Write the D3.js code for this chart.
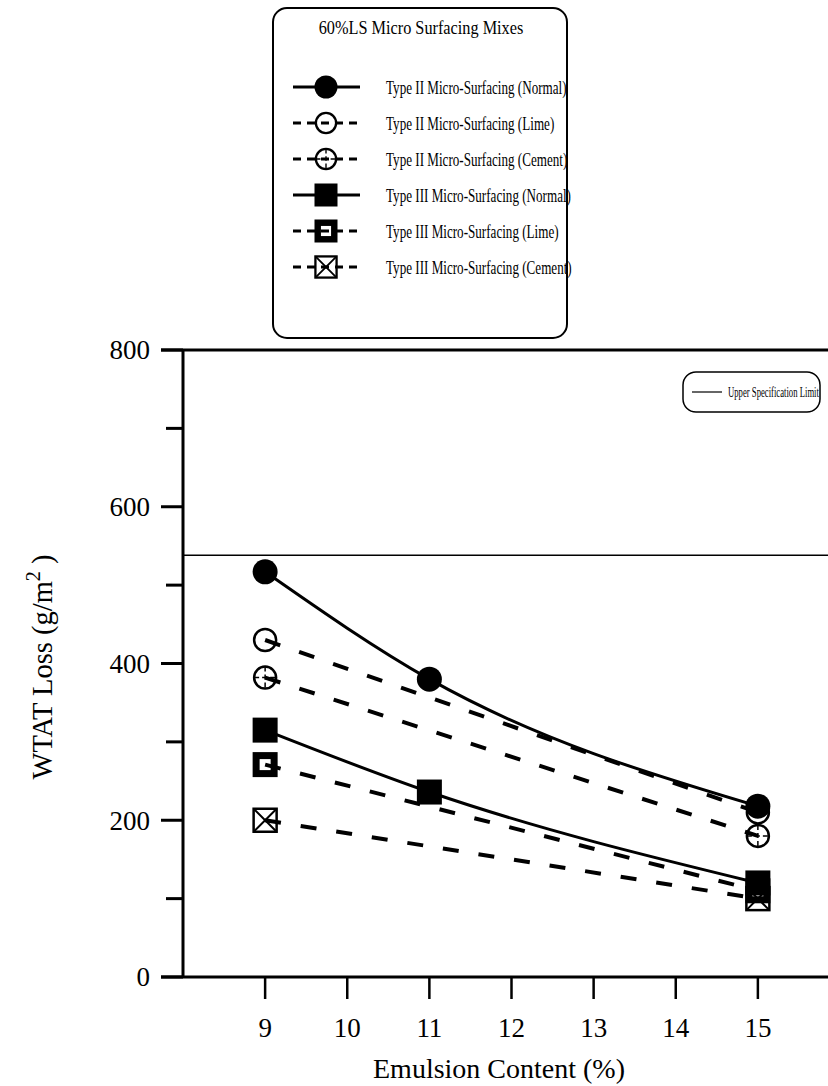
<!DOCTYPE html>
<html>
<head>
<meta charset="utf-8">
<script src="https://cdn.jsdelivr.net/npm/d3@7"></script>
<style>
  html, body { margin: 0; padding: 0; background: #fff; }
  svg { display: block; font-family: "Liberation Serif", "DejaVu Serif", serif; }
</style>
</head>
<body>
<svg id="chart" width="828" height="1086"></svg>
<script>
// *******************
// data
// *******************
const emulsion = [9, 11, 15];
const emulsionEnds = [9, 15];

const seriesNames = [
  "Type II Micro-Surfacing (Normal)",
  "Type II Micro-Surfacing (Lime)",
  "Type II Micro-Surfacing (Cement)",
  "Type III Micro-Surfacing (Normal)",
  "Type III Micro-Surfacing (Lime)",
  "Type III Micro-Surfacing (Cement)"
];
const type2Normal = [517, 380, 218];
const type2Lime = [430, 210];
const type2Cement = [382, 180];
const type3Normal = [315, 236, 120];
const type3Lime = [271, 110];
const type3Cement = [200, 100];

const specLimit = 538;
const xTicks = [9, 10, 11, 12, 13, 14, 15];
const yTicks = [0, 200, 400, 600, 800];
const yMinorTicks = [100, 300, 500, 700];

// *******************
// set up
// *******************
const svg = d3.select("#chart");
const x = d3.scaleLinear().domain([8, 16]).range([183, 840]);
const y = d3.scaleLinear().domain([0, 800]).range([977, 350]);

// marker shapes
function drawMarker(g, kind) {
  if (kind === "filledCircle") {
    g.append("circle").attr("r", 12.5).attr("fill", "#000");
  } else if (kind === "openCircle") {
    g.append("circle").attr("r", 11).attr("fill", "none").attr("stroke", "#000").attr("stroke-width", 2.5);
  } else if (kind === "crossCircle") {
    g.append("circle").attr("r", 11).attr("fill", "none").attr("stroke", "#000").attr("stroke-width", 2.5);
    g.append("path").attr("d", "M0,-11V11M-11,0H11")
      .attr("stroke", "#000").attr("stroke-width", 1.5).attr("stroke-dasharray", "5,3");
  } else if (kind === "filledSquare") {
    g.append("rect").attr("x", -12.5).attr("y", -12.5).attr("width", 25).attr("height", 25).attr("fill", "#000");
  } else if (kind === "openSquare") {
    g.append("rect").attr("x", -9).attr("y", -9).attr("width", 18).attr("height", 18)
      .attr("fill", "none").attr("stroke", "#000").attr("stroke-width", 7);
  } else if (kind === "crossSquare") {
    g.append("rect").attr("x", -11.5).attr("y", -11.5).attr("width", 23).attr("height", 23)
      .attr("fill", "none").attr("stroke", "#000").attr("stroke-width", 2.5);
    g.append("path").attr("d", "M-11.5,-11.5L11.5,11.5M11.5,-11.5L-11.5,11.5")
      .attr("stroke", "#000").attr("stroke-width", 2);
  }
}

const series = [
  { name: seriesNames[0], xs: emulsion, ys: type2Normal, marker: "filledCircle", dashed: false },
  { name: seriesNames[1], xs: emulsionEnds, ys: type2Lime, marker: "openCircle", dashed: true },
  { name: seriesNames[2], xs: emulsionEnds, ys: type2Cement, marker: "crossCircle", dashed: true },
  { name: seriesNames[3], xs: emulsion, ys: type3Normal, marker: "filledSquare", dashed: false },
  { name: seriesNames[4], xs: emulsionEnds, ys: type3Lime, marker: "openSquare", dashed: true },
  { name: seriesNames[5], xs: emulsionEnds, ys: type3Cement, marker: "crossSquare", dashed: true }
];

// condensed caption: draw at the origin and stretch horizontally by k
function condensedText(parent, tx, ty, k, size, label, anchor) {
  return parent.append("text")
    .attr("transform", `translate(${tx},${ty}) scale(${k},1)`)
    .attr("text-anchor", anchor || "start")
    .attr("font-size", size)
    .text(label);
}

// *******************
// axes
// *******************
const axes = svg.append("g").attr("stroke", "#000");

// top frame line and x axis run off the right edge
axes.append("line").attr("x1", 161).attr("x2", 828).attr("y1", y(800)).attr("y2", y(800)).attr("stroke-width", 3);
axes.append("line").attr("x1", 161).attr("x2", 828).attr("y1", y(0)).attr("y2", y(0)).attr("stroke-width", 3);
axes.append("line").attr("x1", x(8)).attr("x2", x(8)).attr("y1", y(800)).attr("y2", y(0)).attr("stroke-width", 3);

// y ticks
axes.selectAll(".ytick").data(yTicks).join("line")
  .attr("x1", x(8) - 22).attr("x2", x(8)).attr("y1", d => y(d)).attr("y2", d => y(d)).attr("stroke-width", 3);
axes.selectAll(".yminor").data(yMinorTicks).join("line")
  .attr("x1", x(8) - 17).attr("x2", x(8)).attr("y1", d => y(d)).attr("y2", d => y(d)).attr("stroke-width", 3);
svg.selectAll(".ylab").data(yTicks).join("text")
  .attr("x", 150).attr("y", d => y(d)).attr("dy", "0.35em")
  .attr("text-anchor", "end").attr("font-size", 27).text(d => d);

// x ticks
axes.selectAll(".xtick").data(xTicks).join("line")
  .attr("x1", d => x(d)).attr("x2", d => x(d)).attr("y1", y(0)).attr("y2", y(0) + 22).attr("stroke-width", 2.5);
svg.selectAll(".xlab").data(xTicks).join("text")
  .attr("x", d => x(d)).attr("y", 1037)
  .attr("text-anchor", "middle").attr("font-size", 27).text(d => d);

svg.append("text").attr("x", 499).attr("y", 1078).attr("text-anchor", "middle")
  .attr("font-size", 28).text("Emulsion Content (%)");

const yTitle = svg.append("text")
  .attr("transform", "translate(52, 667) rotate(-90)")
  .attr("text-anchor", "middle").attr("font-size", 28.5);
yTitle.append("tspan").text("WTAT Loss (g/m");
yTitle.append("tspan").attr("font-size", 20).attr("dy", -12).text("2");
yTitle.append("tspan").attr("dy", 12).text(" )");

// *******************
// spec limit
// *******************
svg.append("line").attr("x1", x(8)).attr("x2", 828).attr("y1", y(specLimit)).attr("y2", y(specLimit))
  .attr("stroke", "#000").attr("stroke-width", 1.5);

const specBox = svg.append("g");
specBox.append("rect").attr("x", 683).attr("y", 372).attr("width", 137).attr("height", 40).attr("rx", 13)
  .attr("fill", "#fff").attr("stroke", "#000").attr("stroke-width", 1.5);
specBox.append("line").attr("x1", 692).attr("x2", 722).attr("y1", 392).attr("y2", 392)
  .attr("stroke", "#000").attr("stroke-width", 1.2);
condensedText(specBox, 728, 397, 0.62, 14, "Upper Specification Limit");

// *******************
// series lines and markers
// *******************
const lineGen = d3.line().x(d => x(d[0])).y(d => y(d[1])).curve(d3.curveMonotoneX);
const plot = svg.append("g");

series.forEach(s => {
  const pts = s.xs.map((v, i) => [v, s.ys[i]]);
  plot.append("path").datum(pts).attr("d", lineGen)
    .attr("fill", "none").attr("stroke", "#000")
    .attr("stroke-width", s.dashed ? 4 : 3)
    .attr("stroke-dasharray", s.dashed ? "16,20" : null);
});
series.forEach(s => {
  s.xs.forEach((v, i) => {
    const g = plot.append("g").attr("transform", `translate(${x(v)},${y(s.ys[i])})`);
    drawMarker(g, s.marker);
  });
});

// *******************
// legend
// *******************
const legend = svg.append("g");
legend.append("rect").attr("x", 273).attr("y", 8).attr("width", 294).attr("height", 330).attr("rx", 14)
  .attr("fill", "#fff").attr("stroke", "#000").attr("stroke-width", 2);
condensedText(legend, 421, 34, 0.88, 18.5, "60%LS Micro Surfacing Mixes", "middle");

series.forEach((s, i) => {
  const ly = 87 + i * 36;
  legend.append("line").attr("x1", 293).attr("x2", 360).attr("y1", ly).attr("y2", ly)
    .attr("stroke", "#000").attr("stroke-width", 3)
    .attr("stroke-dasharray", s.dashed ? "8,6" : null);
  drawMarker(legend.append("g").attr("transform", `translate(326,${ly}) scale(0.92)`), s.marker);
  condensedText(legend, 386, ly + 6.5, 0.69, 19, s.name);
});
</script>
</body>
</html>
